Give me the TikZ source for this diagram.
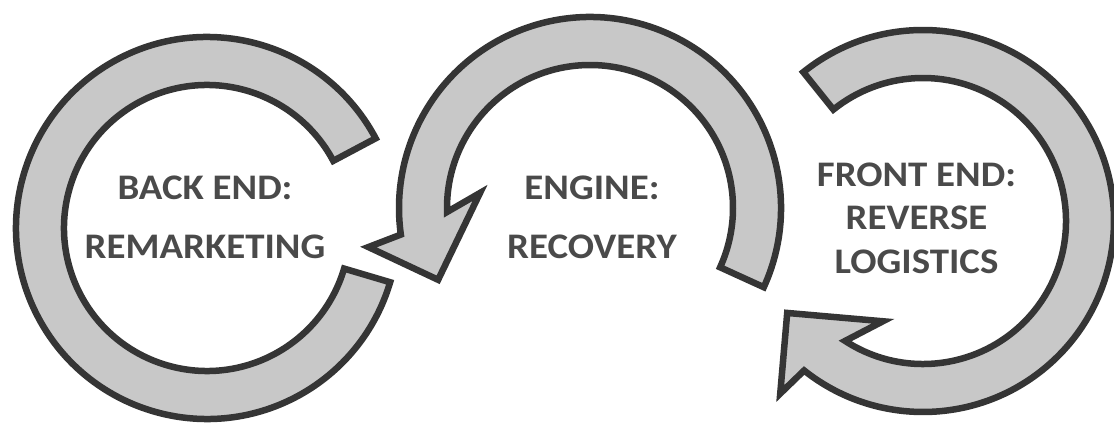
\documentclass[tikz,border=0pt]{standalone}
\usepackage{fontspec}
\setmainfont{Carlito}
\newfontfamily\labelfont{Carlito}[FakeStretch=1.08]
\definecolor{ringfill}{HTML}{C8C8C8}
\definecolor{ringline}{HTML}{353535}
\definecolor{labeltext}{HTML}{4A4A4A}
\begin{document}
\begin{tikzpicture}[x=1pt,y=1pt,
  ring/.style={fill=ringfill,draw=ringline,line width=6.5pt,line join=miter},
  label/.style={text=labeltext,align=center,inner sep=0pt,
    font=\labelfont\bfseries\fontsize{36}{#1}\selectfont},
  label/.default=44]
\useasboundingbox (0,0) rectangle (1114,423);

% back end: open ring without a head
\begin{scope}[shift={(207,195)}]
  \path[ring] (28:191) arc[start angle=28,end angle=343.5,radius=191]
    -- (343.5:143) arc[start angle=343.5,end angle=28,radius=143] -- cycle;
\end{scope}

% engine: ring turning anticlockwise, head at lower left
\begin{scope}[shift={(590,215)}]
  \path[ring] (-24.5:191) arc[start angle=-24.5,end angle=188,radius=191]
    -- (190:225) -- (205.3:168) -- (172.2:111)
    -- (181.6:143) arc[start angle=181.6,end angle=-24.5,radius=143] -- cycle;
\end{scope}

% front end: ring turning clockwise, head at lower left
\begin{scope}[shift={(923,202)}]
  \path[ring] (128.8:191) arc[start angle=128.8,end angle=-128.5,radius=191]
    -- (230.4:224) -- (214.1:164) -- (248.2:108)
    -- (-123:143) arc[start angle=-123,end angle=128.8,radius=143] -- cycle;
\end{scope}

\node[label=59] (back) at (205,205.5) {BACK END:\\REMARKETING};
\node[label=59] (engine) at (592,205.5) {ENGINE:\\RECOVERY};
\node[label=43.5] (front) at (916.5,205) {FRONT END:\\REVERSE\\LOGISTICS};
\end{tikzpicture}
\end{document}
